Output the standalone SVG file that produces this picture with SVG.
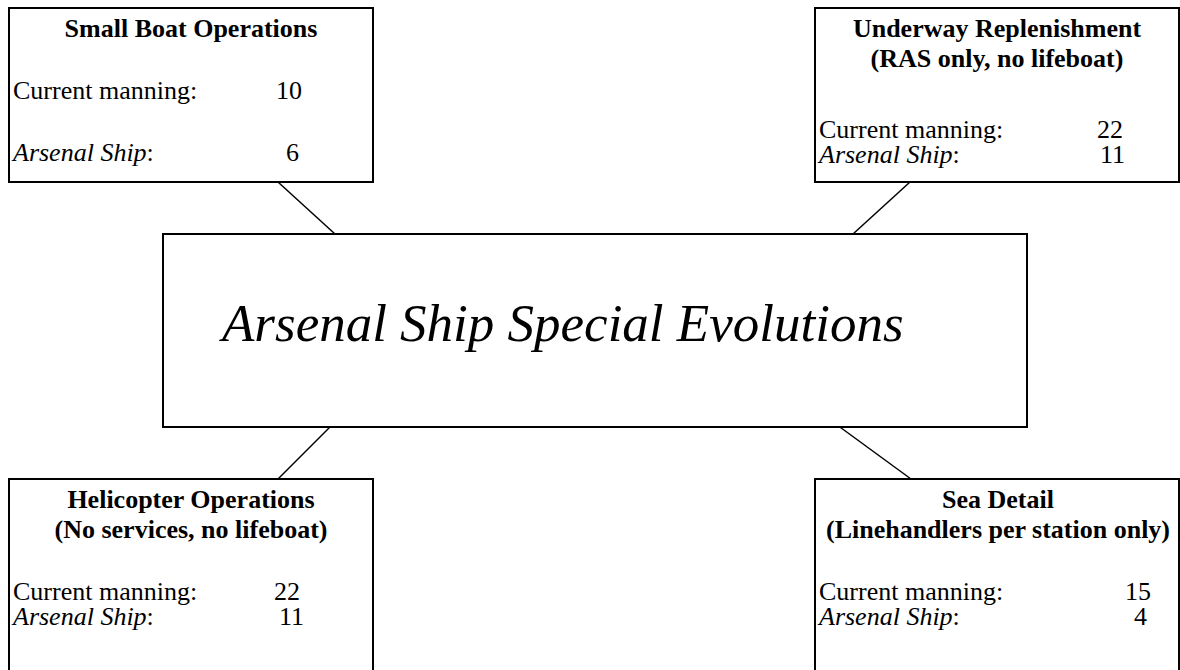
<svg xmlns="http://www.w3.org/2000/svg" width="1180" height="670" viewBox="0 0 1180 670">
<style>
.box{fill:#fff;stroke:#000;stroke-width:2}
.t{font-family:"Liberation Serif","Times New Roman",serif;font-size:26px;fill:#000}
.b{font-weight:bold;text-anchor:middle}
.i{font-style:italic}
.big{font-family:"Liberation Serif","Times New Roman",serif;font-size:53px;font-style:italic;fill:#000}
.ln{stroke:#000;stroke-width:1.5;fill:none}
</style>
<rect width="1180" height="670" fill="#fff"/>
<g id="connectors">
<line class="ln" x1="278" y1="182" x2="335" y2="234"/>
<line class="ln" x1="910" y1="182" x2="853" y2="234"/>
<line class="ln" x1="335" y1="422" x2="278" y2="479"/>
<line class="ln" x1="833" y1="422" x2="911" y2="479"/>
</g>
<g id="center">
<rect class="box" x="163" y="234" width="864" height="193"/>
<text class="big" x="222" y="341">Arsenal Ship Special Evolutions</text>
</g>
<g id="small-boat">
<rect class="box" x="9" y="8" width="364" height="174"/>
<text class="t b" x="191" y="37">Small Boat Operations</text>
<text class="t" x="13" y="99">Current manning:</text>
<text class="t" x="276" y="99">10</text>
<text class="t" x="13" y="161"><tspan class="i">Arsenal Ship</tspan>:</text>
<text class="t" x="286" y="161">6</text>
</g>
<g id="underway">
<rect class="box" x="815" y="8" width="364" height="174"/>
<text class="t b" x="997" y="37">Underway Replenishment</text>
<text class="t b" x="997" y="67">(RAS only, no lifeboat)</text>
<text class="t" x="819" y="138">Current manning:</text>
<text class="t" x="1097" y="138">22</text>
<text class="t" x="819" y="163"><tspan class="i">Arsenal Ship</tspan>:</text>
<text class="t" x="1100" y="163">11</text>
</g>
<g id="helicopter">
<rect class="box" x="9" y="479" width="364" height="200"/>
<text class="t b" x="191" y="508">Helicopter Operations</text>
<text class="t b" x="191" y="538">(No services, no lifeboat)</text>
<text class="t" x="13" y="600">Current manning:</text>
<text class="t" x="274" y="600">22</text>
<text class="t" x="13" y="625"><tspan class="i">Arsenal Ship</tspan>:</text>
<text class="t" x="279" y="625">11</text>
</g>
<g id="sea-detail">
<rect class="box" x="815" y="479" width="364" height="200"/>
<text class="t b" x="998" y="508">Sea Detail</text>
<text class="t b" x="998" y="538">(Linehandlers per station only)</text>
<text class="t" x="819" y="600">Current manning:</text>
<text class="t" x="1125" y="600">15</text>
<text class="t" x="819" y="625"><tspan class="i">Arsenal Ship</tspan>:</text>
<text class="t" x="1134" y="625">4</text>
</g>
</svg>
